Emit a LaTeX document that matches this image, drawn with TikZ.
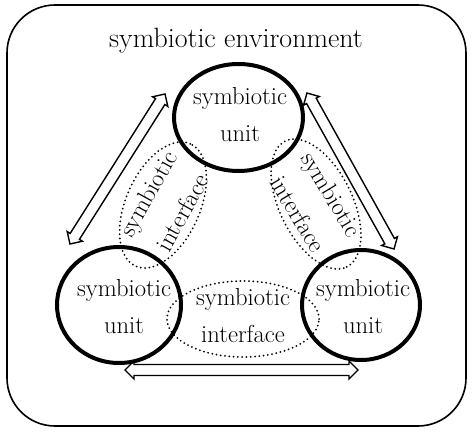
\documentclass[tikz,border=0pt]{standalone}
\usetikzlibrary{shapes.geometric}
\newcommand{\symarrow}[4]{%
  \begin{scope}[shift={#1}, rotate=#2]
    \draw[barrow] (-#3/2,0) coordinate (#4-a) -- ++(9,9) -- ++(0,-3.5) -- (#3/2-9,5.5) -- ++(0,3.5)
      -- (#3/2,0) coordinate (#4-b) -- ++(-9,-9) -- ++(0,3.5) -- (-#3/2+9,-5.5) -- ++(0,-3.5) -- cycle;
  \end{scope}}
\begin{document}
\begin{tikzpicture}[x=1pt,y=1pt,
  unit/.style={draw, ellipse, line width=4pt, inner sep=0pt},
  iface/.style={draw, ellipse, line width=2pt, dash pattern=on 0pt off 4.3pt, line cap=round, inner sep=0pt},
  lbl/.style={align=center, inner sep=0pt, font=\fontsize{24.6}{37}\selectfont},
  rlbl/.style={align=center, inner sep=0pt, font=\fontsize{24.6}{39}\selectfont},
  barrow/.style={line width=1.4pt, line join=miter}]
\useasboundingbox (0,0) rectangle (474,437);
% environment
\draw[line width=1.6pt, rounded corners=48pt] (7,11) rectangle (466,432);
\node[inner sep=0pt, font=\fontsize{27.9}{32}\selectfont] (title) at (236,396) {symbiotic environment};
% arrows
\symarrow{(117.5,268)}{57.65}{177.6}{arrL}
\symarrow{(350.5,266)}{-60.85}{178.6}{arrR}
\symarrow{(241.5,67)}{0}{233}{arrB}
% interfaces
\node[iface, minimum width=134pt, minimum height=74pt, rotate=66] (ifL) at (163,232) {};
\node[iface, minimum width=140pt, minimum height=73pt, rotate=-64] (ifR) at (316,233) {};
\node[iface, minimum width=152pt, minimum height=76pt] (ifB) at (243,118) {};
\node[rlbl, rotate=61] (tL) at (165,234) {symbiotic\\interface};
\node[rlbl, rotate=-59] (tR) at (315,233) {symbiotic\\interface};
\node[lbl] (tB) at (243,121) {symbiotic\\interface};
% units
\node[unit, minimum width=129pt, minimum height=107pt] (uT) at (238.5,319.5) {};
\node[unit, minimum width=124pt, minimum height=116pt] (uL) at (119,132) {};
\node[unit, minimum width=118pt, minimum height=110pt] (uR) at (361,132) {};
\node[lbl] (tT) at (240,322) {symbiotic\\unit};
\node[lbl] (tUL) at (124,130) {symbiotic\\unit};
\node[lbl] (tUR) at (363,130) {symbiotic\\unit};
\end{tikzpicture}
\end{document}
